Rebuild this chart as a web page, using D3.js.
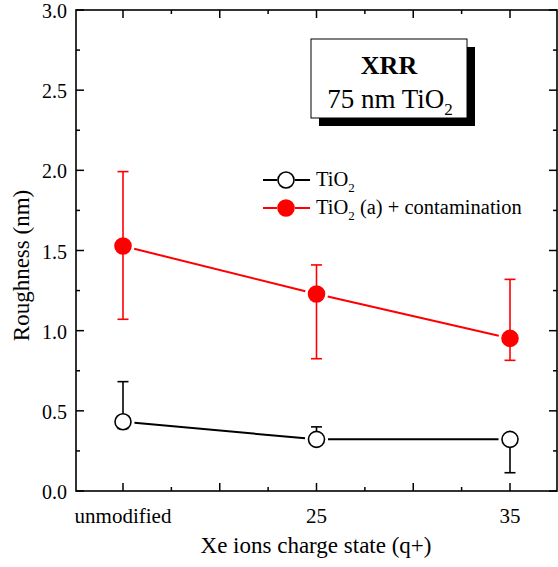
<!DOCTYPE html>
<html>
<head>
<meta charset="utf-8">
<script src="https://cdn.jsdelivr.net/npm/d3@7"></script>
<style>
  body { margin: 0; background: #fff; }
  svg text { font-family: "Liberation Serif", "Times New Roman", serif; }
</style>
</head>
<body>
<div id="chart"></div>
<script>
// categories on the x axis
const categories = ["unmodified", "25", "35"];

// TiO2 (open black circles)
const tio2 = [0.432, 0.322, 0.322];
const tio2Up = [0.682, 0.40, 0.35];
const tio2Down = [0.39, 0.30, 0.114];

// TiO2 (a) + contamination (filled red)
const contam = [1.528, 1.229, 0.952];
const contamUp = [1.992, 1.41, 1.32];
const contamDown = [1.071, 0.825, 0.815];

const yTicks = [0, 0.5, 1.0, 1.5, 2.0, 2.5, 3.0];

const W = 558, H = 567;
const pLeft = 76, pRight = 557, pTop = 10, pBottom = 491;

const svg = d3.select("#chart").append("svg")
  .attr("width", W)
  .attr("height", H)
  .attr("font-family", "'Liberation Serif', 'Times New Roman', serif");

// x: category index -> px
const x = d3.scaleLinear().domain([0, 2]).range([123, 510]);
const y = d3.scaleLinear().domain([0, 3]).range([pBottom, pTop]);

// frame
svg.append("rect")
  .attr("x", pLeft).attr("y", pTop)
  .attr("width", pRight - pLeft).attr("height", pBottom - pTop)
  .attr("fill", "none").attr("stroke", "#000").attr("stroke-width", 1.6);

// y ticks (left + right mirror)
const yMinor = d3.range(0, 3.01, 0.25);
yMinor.forEach(v => {
  const major = Math.abs(v * 2 - Math.round(v * 2)) < 1e-6;
  const len = major ? 8 : 4;
  svg.append("line").attr("x1", pLeft).attr("x2", pLeft + len)
    .attr("y1", y(v)).attr("y2", y(v)).attr("stroke", "#000").attr("stroke-width", 1.5);
  svg.append("line").attr("x1", pRight).attr("x2", pRight - len)
    .attr("y1", y(v)).attr("y2", y(v)).attr("stroke", "#000").attr("stroke-width", 1.5);
});
yTicks.forEach(v => {
  svg.append("text")
    .attr("x", pLeft - 9).attr("y", y(v) + 8)
    .attr("text-anchor", "end")
    .style("font-size", "20px")
    .text(v.toFixed(1));
});

// x ticks (bottom + top mirror)
const xMinor = d3.range(-0.25, 2.26, 0.25);
xMinor.forEach(v => {
  const px = x(v);
  if (px <= pLeft + 1 || px >= pRight - 1) return;
  const major = Math.abs(v * 2 - Math.round(v * 2)) < 1e-6;
  const len = major ? 8 : 4;
  svg.append("line").attr("x1", px).attr("x2", px)
    .attr("y1", pBottom).attr("y2", pBottom - len).attr("stroke", "#000").attr("stroke-width", 1.5);
  svg.append("line").attr("x1", px).attr("x2", px)
    .attr("y1", pTop).attr("y2", pTop + len).attr("stroke", "#000").attr("stroke-width", 1.5);
});
categories.forEach((c, i) => {
  svg.append("text")
    .attr("x", x(i)).attr("y", pBottom + 32)
    .attr("text-anchor", "middle")
    .style("font-size", "21px")
    .text(c);
});

// axis titles
svg.append("text")
  .attr("x", 316).attr("y", 553)
  .attr("text-anchor", "middle")
  .style("font-size", "23px")
  .text("Xe ions charge state (q+)");

svg.append("text")
  .attr("transform", "translate(29," + ((pTop + pBottom) / 2 + 15) + ") rotate(-90)")
  .attr("text-anchor", "middle")
  .style("font-size", "23px")
  .text("Roughness (nm)");

const R = 8, gap = 3.5;

function drawSeries(vals, up, down, color, filled) {
  const g = svg.append("g");
  // error bars
  vals.forEach((v, i) => {
    g.append("line").attr("x1", x(i)).attr("x2", x(i))
      .attr("y1", y(up[i])).attr("y2", y(down[i]))
      .attr("stroke", color).attr("stroke-width", 1.6);
    [up[i], down[i]].forEach(e => {
      g.append("line").attr("x1", x(i) - 5.5).attr("x2", x(i) + 5.5)
        .attr("y1", y(e)).attr("y2", y(e))
        .attr("stroke", color).attr("stroke-width", 1.6);
    });
  });
  // connecting segments, trimmed away from markers
  for (let i = 0; i < vals.length - 1; i++) {
    const x0 = x(i), y0 = y(vals[i]), x1 = x(i + 1), y1 = y(vals[i + 1]);
    const len = Math.hypot(x1 - x0, y1 - y0);
    const ux = (x1 - x0) / len, uy = (y1 - y0) / len;
    const d = R + gap;
    g.append("line")
      .attr("x1", x0 + ux * d).attr("y1", y0 + uy * d)
      .attr("x2", x1 - ux * d).attr("y2", y1 - uy * d)
      .attr("stroke", color).attr("stroke-width", 2);
  }
  // markers
  g.selectAll("circle.pt").data(vals).enter().append("circle")
    .attr("class", "pt")
    .attr("cx", (d, i) => x(i)).attr("cy", d => y(d))
    .attr("r", R)
    .attr("fill", filled ? color : "#fff")
    .attr("stroke", color).attr("stroke-width", 1.6);
}

drawSeries(tio2, tio2Up, tio2Down, "#000", false);
drawSeries(contam, contamUp, contamDown, "#ff0000", true);

// XRR info box with shadow
const bx = 311, by = 39, bw = 156, bh = 79;
svg.append("rect").attr("x", bx + 8).attr("y", by + 8).attr("width", bw).attr("height", bh).attr("fill", "#000");
svg.append("rect").attr("x", bx).attr("y", by).attr("width", bw).attr("height", bh)
  .attr("fill", "#fff").attr("stroke", "#000").attr("stroke-width", 1);
svg.append("text").attr("x", bx + bw / 2).attr("y", by + 35)
  .attr("text-anchor", "middle").style("font-size", "26px").style("font-weight", "bold")
  .text("XRR");
const t2 = svg.append("text").attr("x", bx + bw / 2 + 1).attr("y", by + 69)
  .attr("text-anchor", "middle").style("font-size", "27px");
t2.append("tspan").text("75 nm TiO");
t2.append("tspan").attr("dy", 7).style("font-size", "17px").text("2");

// legend
const legend = [
  { color: "#000", filled: false, y: 180, main: "TiO", rest: "" },
  { color: "#ff0000", filled: true, y: 208, main: "TiO", rest: " (a) + contamination" }
];
legend.forEach(l => {
  const cx = 286;
  svg.append("line").attr("x1", 263).attr("x2", cx - R - 1).attr("y1", l.y).attr("y2", l.y)
    .attr("stroke", l.color).attr("stroke-width", 2);
  svg.append("line").attr("x1", cx + R + 1).attr("x2", 310).attr("y1", l.y).attr("y2", l.y)
    .attr("stroke", l.color).attr("stroke-width", 2);
  svg.append("circle").attr("cx", cx).attr("cy", l.y).attr("r", R)
    .attr("fill", l.filled ? l.color : "#fff").attr("stroke", l.color).attr("stroke-width", 1.6);
  const t = svg.append("text").attr("x", 316).attr("y", l.y + 6).style("font-size", "20.5px");
  t.append("tspan").text(l.main);
  t.append("tspan").attr("dy", 6).style("font-size", "13px").text("2");
  if (l.rest) t.append("tspan").attr("dy", -6).text(l.rest);
});
</script>
</body>
</html>
